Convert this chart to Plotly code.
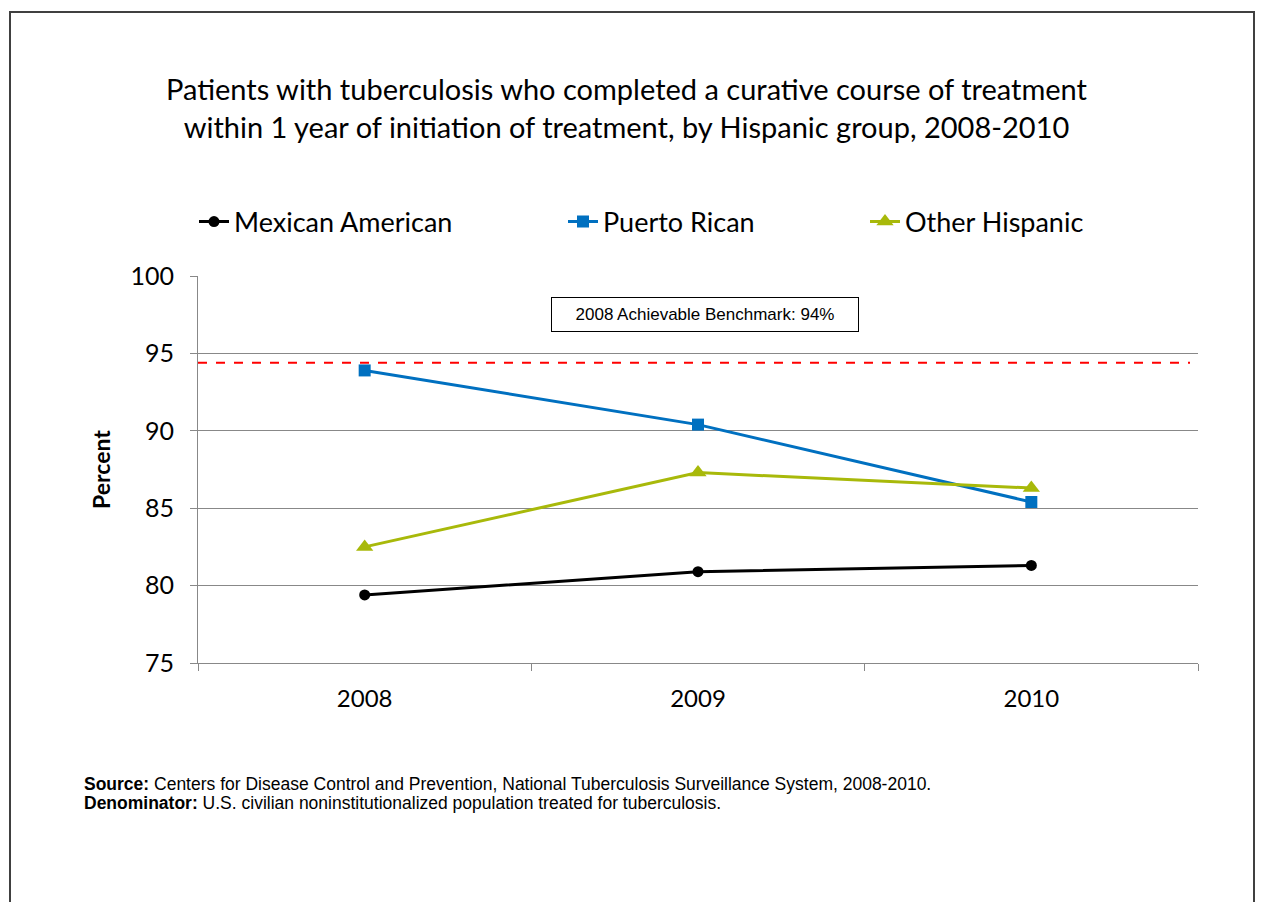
import plotly.graph_objects as go

years = ["2008", "2009", "2010"]
mexican = [79.4, 80.9, 81.3]
puerto_rican = [93.9, 90.4, 85.4]
other_hispanic = [82.5, 87.3, 86.3]
benchmark = 94.4
y_ticks = [75, 80, 85, 90, 95, 100]

OFF = 8  # page body margin
W, H = 1264 - OFF, 902 - OFF
L, R, T, B = 198 - OFF, 1198 - OFF, 276 - OFF, 663 - OFF

def px(x):
    return (x - OFF - L) / (R - L)

def py(y):
    return (B - (y - OFF)) / (B - T)

fig = go.Figure()
fig.add_trace(go.Scatter(x=years, y=mexican, name="Mexican American", mode="lines+markers",
                         line=dict(color="#000000", width=3), marker=dict(symbol="circle", size=11),
                         legend="legend"))
fig.add_trace(go.Scatter(x=years, y=puerto_rican, name="Puerto Rican", mode="lines+markers",
                         line=dict(color="#0070C0", width=3), marker=dict(symbol="square", size=12),
                         legend="legend2"))
fig.add_trace(go.Scatter(x=years, y=other_hispanic, name="Other Hispanic", mode="lines+markers",
                         line=dict(color="#A8B90A", width=3), marker=dict(symbol="triangle-up", size=15),
                         legend="legend3"))

FONT = "Lato, Open Sans, sans-serif"
legfont = dict(family=FONT, size=27, color="#000000")
def leg(x):
    return dict(x=px(x), y=py(222), xanchor="left", yanchor="middle", font=legfont,
                bgcolor="rgba(0,0,0,0)", itemwidth=30, tracegroupgap=0)

fig.update_layout(
    width=W, height=H,
    margin=dict(l=L, r=W - R, t=T, b=H - B),
    paper_bgcolor="white", plot_bgcolor="white",
    showlegend=True,
    legend=leg(194), legend2=leg(563), legend3=leg(865),
    xaxis=dict(type="category", tickson="boundaries", ticks="outside", ticklen=7, tickcolor="#888888",
               showline=True, linecolor="#888888", linewidth=1, showgrid=False,
               ticklabelstandoff=14,
               tickfont=dict(family=FONT, size=24, color="#000000"),
               range=[-0.5, 2.5]),
    yaxis=dict(range=[75, 100], tickvals=y_ticks, ticks="outside", ticklen=7, tickcolor="#888888",
               showline=True, linecolor="#888888", linewidth=1, showgrid=True, gridcolor="#888888",
               gridwidth=1, zeroline=False, ticklabelstandoff=11,
               tickfont=dict(family=FONT, size=25, color="#000000"),
               title=dict(text="<b>Percent</b>", standoff=13,
                          font=dict(family=FONT, size=23, color="#000000"))),
    font=dict(family=FONT),
)

fig.add_shape(type="line", xref="paper", yref="y", x0=0, x1=0.992, y0=benchmark, y1=benchmark,
              line=dict(color="#FF0000", width=2, dash="dash"))

# frame
fig.add_shape(type="rect", xref="paper", yref="paper", x0=px(10), x1=px(1254), y0=py(940), y1=py(12),
              line=dict(color="#404040", width=2), fillcolor="rgba(0,0,0,0)", layer="below")

fig.add_annotation(xref="paper", yref="paper", x=px(627), y=py(108), xanchor="center", yanchor="middle",
                   text="Patients with tuberculosis who completed a curative course of treatment<br>"
                        "within 1 year of initiation of treatment, by Hispanic group, 2008-2010",
                   showarrow=False, align="center",
                   font=dict(family=FONT, size=29, color="#000000"))

fig.add_annotation(xref="paper", yref="paper", x=px(705), y=py(314), xanchor="center", yanchor="middle",
                   text="2008 Achievable Benchmark: " + str(round(benchmark)) + "%", showarrow=False,
                   bordercolor="#000000", borderwidth=1, borderpad=7, bgcolor="white", width=292,
                   font=dict(family="Liberation Sans, Arial, sans-serif", size=17, color="#000000"))

SRC_FONT = dict(family="Liberation Sans, Arial, sans-serif", size=17.5, color="#000000")
fig.add_annotation(xref="paper", yref="paper", x=px(82), y=py(784), xanchor="left", yanchor="middle",
                   text="<b>Source:</b> Centers for Disease Control and Prevention, National Tuberculosis Surveillance System, 2008-2010.",
                   showarrow=False, font=SRC_FONT)
fig.add_annotation(xref="paper", yref="paper", x=px(82), y=py(803), xanchor="left", yanchor="middle",
                   text="<b>Denominator:</b> U.S. civilian noninstitutionalized population treated for tuberculosis.",
                   showarrow=False, font=SRC_FONT)

fig.write_html("out.html")
